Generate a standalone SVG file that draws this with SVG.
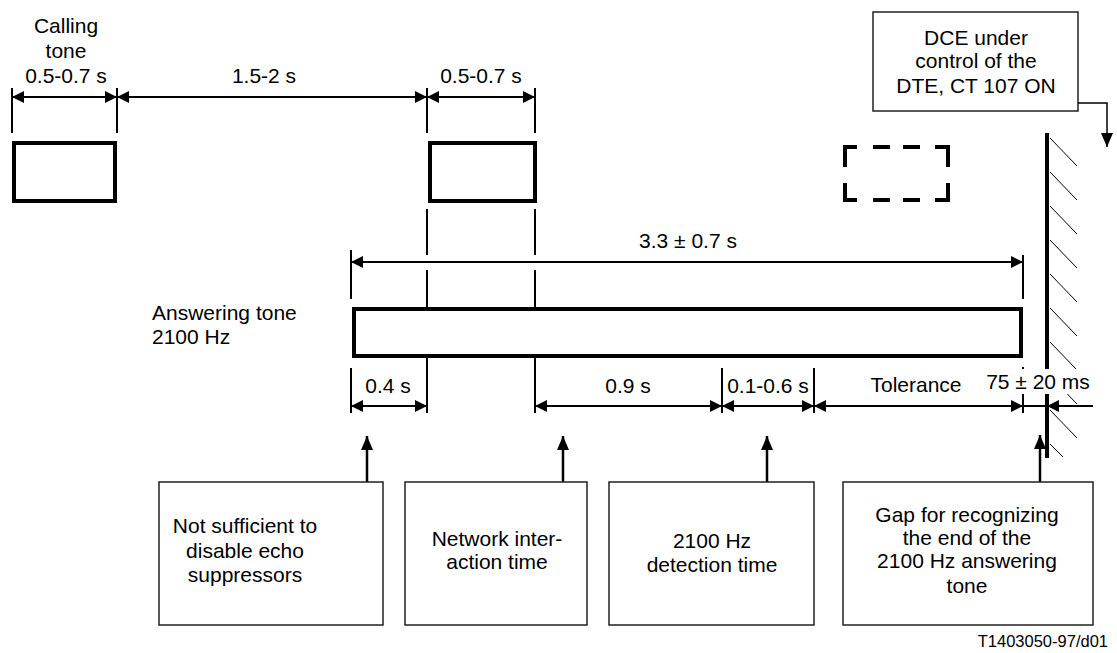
<svg xmlns="http://www.w3.org/2000/svg" width="1117" height="653" viewBox="0 0 1117 653">
<style>
text{font-family:"Liberation Sans",Arial,sans-serif;font-size:21px;fill:#000}
.m{text-anchor:middle}
.thick{fill:#fff;stroke:#000;stroke-width:4}
.box{fill:#fff;stroke:#222;stroke-width:1.5}
.ext{stroke:#000;stroke-width:2;fill:none}
.dim{stroke:#000;stroke-width:2;fill:none;marker-start:url(#ah);marker-end:url(#ah)}
.up{stroke:#000;stroke-width:2.5;fill:none;marker-end:url(#big)}
.hatch{stroke:#000;stroke-width:1;fill:none}
.dash{stroke:#000;stroke-width:4;fill:none}
</style>
<defs>
<marker id="ah" markerUnits="userSpaceOnUse" markerWidth="12" markerHeight="12" refX="12" refY="6" orient="auto-start-reverse"><path d="M0,0 L12,6 L0,12 z" fill="#000"/></marker>
<marker id="big" markerUnits="userSpaceOnUse" markerWidth="14" markerHeight="12" refX="14" refY="6" orient="auto"><path d="M0,0 L14,6 L0,12 z" fill="#000"/></marker>
</defs>
<rect width="1117" height="653" fill="#fff"/>

<g id="calling-tone-1">
<text class="m" x="66" y="33">Calling</text>
<text class="m" x="66" y="58">tone</text>
<text class="m" x="66" y="83">0.5-0.7 s</text>
<rect class="thick" x="14" y="143" width="101" height="58"/>
</g>
<g id="calling-tone-2">
<text class="m" x="481" y="83">0.5-0.7 s</text>
<rect class="thick" x="430" y="143" width="105" height="58"/>
</g>
<g id="gap-label"><text class="m" x="264" y="83">1.5-2 s</text></g>
<g id="dashed-tone">
<path class="dash" d="M857,147 H845 V167 M845,183 V200 H857 M873,147 H890 M903,147 H920 M873,200 H890 M903,200 H920 M935,147 H948 V167 M948,183 V200 H935"/>
</g>
<g id="dce-box">
<rect class="box" x="873" y="12" width="205" height="99"/>
<text class="m" x="976" y="45">DCE under</text>
<text class="m" x="976" y="68">control of the</text>
<text class="m" x="976" y="93">DTE, CT 107 ON</text>
</g>
<g id="answering-tone">
<text x="152" y="320">Answering tone</text>
<text x="152" y="344">2100 Hz</text>
<rect class="thick" x="354" y="309" width="667" height="47"/>
</g>
<g id="wall">
<line x1="1047" y1="133" x2="1047" y2="458" stroke="#000" stroke-width="4"/>
<path class="hatch" d="M1050,138 l27,28 M1050,172 l27,28 M1050,206 l27,28 M1050,240 l27,28 M1050,274 l27,28 M1050,308 l27,28 M1050,342 l27,28 M1050,376 l27,28 M1050,410 l27,28 M1050,444 l13,13"/>
</g>

<g id="connectors">
<path class="ext" d="M12,88 V133 M117,88 V133 M427,88 V133 M535,88 V133 M427,209 V255 M427,270 V307 M535,209 V255 M535,270 V307 M351,250 V299 M1023,255 V299 M351,368 V413 M427,358 V413 M535,358 V413 M722,368 V413 M814,368 V413 M1023,367 V413"/>
<path class="dim" d="M12,97 H117"/>
<path class="dim" d="M117,97 H427"/>
<path class="dim" d="M427,97 H535"/>
<path class="dim" d="M351,262 H1023"/>
<path class="dim" d="M351,406 H427"/>
<path class="dim" d="M535,406 H722"/>
<path class="dim" d="M722,406 H814"/>
<path class="dim" d="M814,406 H1023"/>
<path class="ext" d="M1023,406 H1047"/>
<path class="ext" d="M1093,406 H1047" style="marker-end:url(#ah)"/>
<path class="up" d="M367,482 V436"/>
<path class="up" d="M563,482 V436"/>
<path class="up" d="M767,482 V436"/>
<path class="up" d="M1040,482 V435"/>
<path d="M1078,103 H1107 V147" fill="none" stroke="#000" stroke-width="1.5" marker-end="url(#big)"/>
</g>

<g id="dim-labels">
<text class="m" x="688" y="248">3.3 ± 0.7 s</text>
<text class="m" x="388" y="393">0.4 s</text>
<text class="m" x="628" y="393">0.9 s</text>
<text class="m" x="768" y="393">0.1-0.6 s</text>
<text class="m" x="916" y="392">Tolerance</text>
<rect x="985" y="369" width="108" height="25" fill="#fff"/>
<text class="m" x="1038" y="389">75 ± 20 ms</text>
</g>

<g id="box-echo">
<rect class="box" x="159" y="482" width="224" height="143"/>
<text class="m" x="245" y="533">Not sufficient to</text>
<text class="m" x="245" y="558">disable echo</text>
<text class="m" x="245" y="582">suppressors</text>
</g>
<g id="box-network">
<rect class="box" x="405" y="482" width="182" height="143"/>
<text class="m" x="497" y="546">Network inter-</text>
<text class="m" x="497" y="569">action time</text>
</g>
<g id="box-detection">
<rect class="box" x="609" y="482" width="205" height="143"/>
<text class="m" x="712" y="548">2100 Hz</text>
<text class="m" x="712" y="572">detection time</text>
</g>
<g id="box-gap">
<rect class="box" x="843" y="482" width="250" height="143"/>
<text class="m" x="967" y="522">Gap for recognizing</text>
<text class="m" x="967" y="545">the end of the</text>
<text class="m" x="967" y="568">2100 Hz answering</text>
<text class="m" x="967" y="593">tone</text>
</g>
<g id="figure-id"><text x="1108" y="647" style="font-size:16.5px;text-anchor:end">T1403050-97/d01</text></g>
</svg>
